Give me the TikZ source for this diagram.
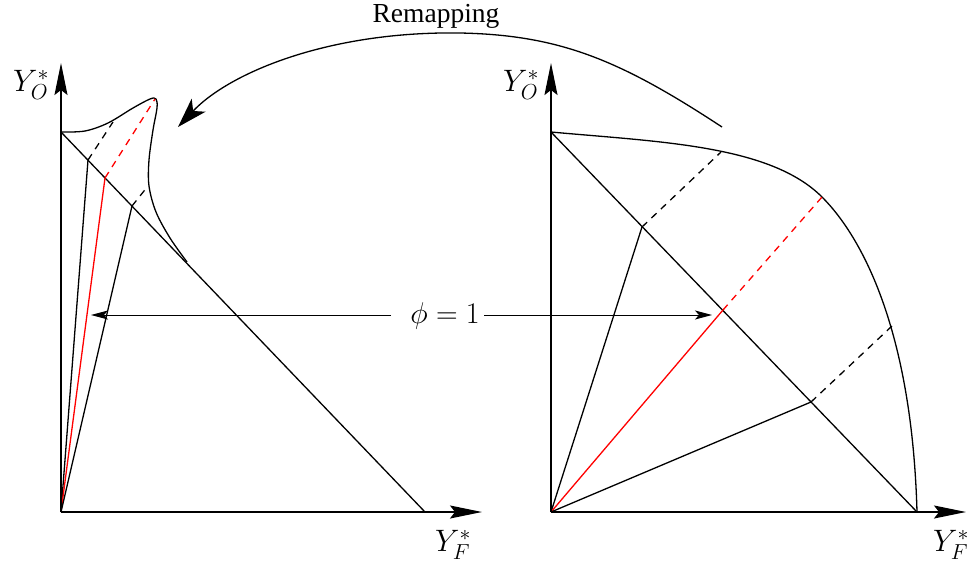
\RequirePackage{fix-cm}
\documentclass[tikz,border=0pt]{standalone}
\usepackage{fontspec}
\newfontfamily\timesfont{Liberation Serif}
\usetikzlibrary{arrows.meta}
\begin{document}
\begin{tikzpicture}[x=1pt,y=-1pt,
  axis/.style={line width=1.6pt,-{Stealth[length=32pt,width=13pt,inset=5pt]}},
  curve/.style={line width=1.3pt},
  ray/.style={line width=1.3pt},
  dashray/.style={line width=1.3pt,dash pattern=on 7pt off 6pt},
  lab/.style={font=\fontsize{31}{35}\selectfont,inner sep=0pt},
  phiarrow/.style={line width=1pt,-{Stealth[length=17pt,width=9pt,inset=4pt]}},
  remaparrow/.style={line width=1.3pt,-{Stealth[length=30pt,width=19pt,inset=8pt]}},
]
\useasboundingbox (0,0) rectangle (967,565);

% ---------- left plot ----------
\coordinate (LO) at (61,512);
\coordinate (LYtop) at (61,63);
\coordinate (LXend) at (482,512);
\coordinate (LA) at (61,132);
\coordinate (LB) at (425,512);
\coordinate (LD1) at (88,160);
\coordinate (LC1) at (113,122);
\coordinate (LD2) at (105,178);
\coordinate (LC2) at (155,99);
\coordinate (LD3) at (132,206);
\coordinate (LC3) at (148,186);
\draw[curve] (LA) -- (LB);
\draw[curve] plot[smooth,tension=0.55] coordinates {(61,132) (85,131) (108,123) (133,108) (150,99) (156,99) (157,108) (153,130) (149,160) (149,186) (156,212) (170,238) (187,262)};
\draw[ray] (LO) -- (LD1);
\draw[dashray] (LD1) -- (LC1);
\draw[ray,red] (LO) -- (LD2);
\draw[dashray,red] (LD2) -- (LC2);
\draw[ray] (LO) -- (LD3);
\draw[dashray] (LD3) -- (LC3);
\draw[axis] (LO) -- (LYtop);
\draw[axis] (LO) -- (LXend);
\node[lab] (LYl) at (31,85) {$Y_O^*$};
\node[lab] (LXl) at (453,545) {$Y_F^*$};

% ---------- right plot ----------
\coordinate (RO) at (551,512);
\coordinate (RYtop) at (551,63);
\coordinate (RXend) at (966,512);
\coordinate (RA) at (551,132);
\coordinate (RB) at (917,512);
\coordinate (RD1) at (642,227);
\coordinate (RC1) at (721,152);
\coordinate (RD2) at (723,310);
\coordinate (RC2) at (822,197);
\coordinate (RD3) at (811,402);
\coordinate (RC3) at (892,326);
\draw[curve] (RA) -- (RB);
\draw[curve] (RA) .. controls (660,142) and (770,145) .. (RC2) .. controls (862,237) and (912,330) .. (RB);
\draw[ray] (RO) -- (RD1);
\draw[dashray] (RD1) -- (RC1);
\draw[ray,red] (RO) -- (RD2);
\draw[dashray,red] (RD2) -- (RC2);
\draw[ray] (RO) -- (RD3);
\draw[dashray] (RD3) -- (RC3);
\draw[axis] (RO) -- (RYtop);
\draw[axis] (RO) -- (RXend);
\node[lab] (RYl) at (521,85) {$Y_O^*$};
\node[lab] (RXl) at (951,545) {$Y_F^*$};

% ---------- phi = 1 ----------
\node[font=\fontsize{30}{34}\selectfont,inner sep=0pt,anchor=base] (phi) at (445,323) {$\phi = 1$};
\coordinate (PLs) at (391,315);
\coordinate (PLe) at (91,315);
\coordinate (PRs) at (484,315);
\coordinate (PRe) at (712,315);
\draw[phiarrow] (PLs) -- (PLe);
\draw[phiarrow] (PRs) -- (PRe);

% ---------- remapping ----------
\node[font=\timesfont\fontsize{27.5}{31}\selectfont,inner sep=0pt] (remap) at (436,16) {Remapping};
\coordinate (RMs) at (722,127);
\coordinate (RMe) at (178,127);
\draw[remaparrow] (RMs) .. controls (620,60) and (560,35) .. (460,33) .. controls (330,31) and (230,72) .. (RMe);
\end{tikzpicture}
\end{document}
